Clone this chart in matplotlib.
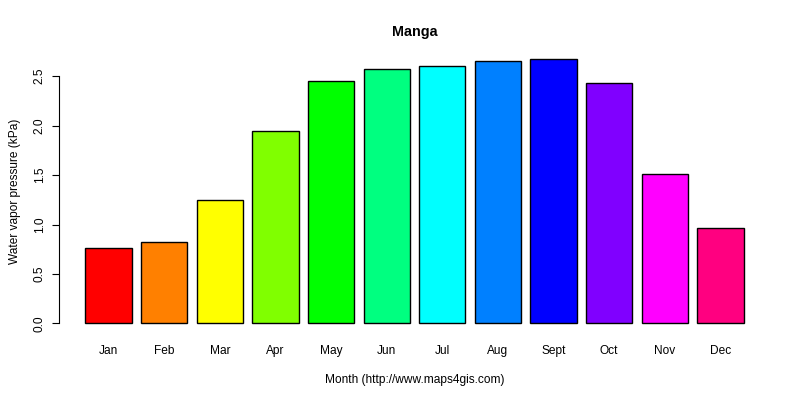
import matplotlib
matplotlib.use("Agg")
import matplotlib.pyplot as plt

# Monthly water vapor pressure, Manga
months = ["Jan", "Feb", "Mar", "Apr", "May", "Jun", "Jul", "Aug", "Sept", "Oct", "Nov", "Dec"]
vapor = [0.76, 0.82, 1.25, 1.95, 2.45, 2.57, 2.60, 2.65, 2.67, 2.43, 1.51, 0.96]
colors = ["#FF0000", "#FF8000", "#FFFF00", "#80FF00", "#00FF00", "#00FF80",
          "#00FFFF", "#0080FF", "#0000FF", "#8000FF", "#FF00FF", "#FF0080"]
yticks = [0.0, 0.5, 1.0, 1.5, 2.0, 2.5]

plt.rcParams["font.family"] = ["Liberation Sans", "DejaVu Sans"]

fig = plt.figure(figsize=(8, 4), dpi=100)
ax = fig.add_axes([0.07375, 0.165, 0.9625 - 0.07375, 0.878 - 0.165])

# R barplot layout: width 1, space 0.2
pos = [0.2 + i * 1.2 + 0.5 for i in range(len(months))]
ax.bar(pos, vapor, width=1.0, color=colors, edgecolor="black", linewidth=1.0)

span = 14.4 - 0.2
ax.set_xlim(0.2 - 0.04 * span, 14.4 + 0.04 * span)
top = max(vapor)
ax.set_ylim(-0.04 * top, 1.04 * top)

for s in ["top", "right", "bottom"]:
    ax.spines[s].set_visible(False)
ax.spines["left"].set_bounds(0, 2.5)

ax.set_yticks(yticks)
ax.set_yticklabels([f"{v:.1f}" for v in yticks], rotation=90, va="center")
ax.tick_params(axis="y", length=5, width=0.8, pad=4.5, labelsize=8.6)
ax.set_xticks(pos)
ax.set_xticklabels(months)
ax.tick_params(axis="x", length=0, pad=8, labelsize=8.6)

ax.set_title("Manga", fontweight="bold", fontsize=10.4, pad=9)
ax.set_xlabel("Month (http://www.maps4gis.com)", fontsize=8.6, labelpad=12)
ax.set_ylabel("Water vapor pressure (kPa)", fontsize=8.6, labelpad=9.5)

fig.savefig("out.png", dpi=100)
